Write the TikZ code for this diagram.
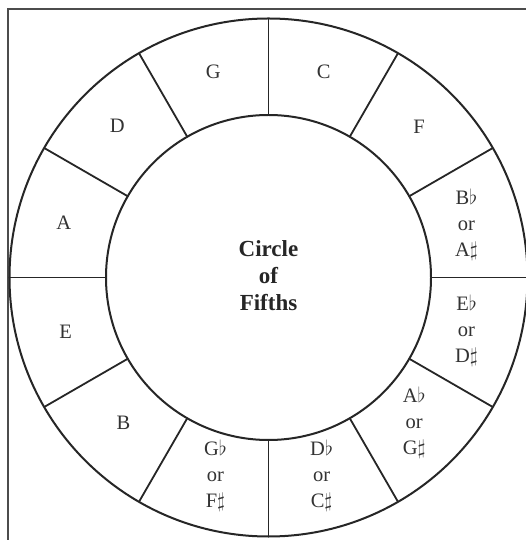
\documentclass[tikz,border=0pt]{standalone}
\usepackage{fontspec}
\setmainfont{Liberation Serif}
\usetikzlibrary{calc}
\begin{document}
\begin{tikzpicture}[x=1pt,y=1pt,
  ring/.style={line width=2pt,draw=black!85},
  spoke/.style={line width=1.8pt,draw=black!85},
  frame/.style={line width=1.5pt,draw=black!70},
  keylab/.style={font=\fontsize{20.5}{26}\selectfont,align=center,text=black!80,inner sep=0pt},
  title/.style={font=\fontsize{23}{27}\selectfont\bfseries,align=center,text=black!85,inner sep=0pt}]
\useasboundingbox (-268.5,-262.5) rectangle (257.5,277.5);
\clip (-268.5,-262.5) rectangle (257.5,277.5);
\fill[white] (-268.5,-262.5) rectangle (257.5,277.5);
\coordinate (c) at (0,0);
% frame
\draw[frame] (-260.5,-280) -- (-260.5,268.5) -- (270,268.5);
% rings
\draw[ring] (c) circle[radius=259];
\draw[ring] (c) circle[radius=162.5];
% spokes
\foreach \a in {0,30,...,330}{
  \draw[spoke] ($(c)+(\a:162.5)$) -- ($(c)+(\a:259)$);
}
% labels
\node[keylab] (kC) at (75:213) {C};
\node[keylab] (kG) at (105:213) {G};
\node[keylab] (kD) at (135:214) {D};
\node[keylab] (kA) at (165:212) {A};
\node[keylab] (kE) at (195:210) {E};
\node[keylab] (kB) at (225:205) {B};
\node[keylab] (kF) at (45:213) {F};
\node[keylab] (kBb) at (15:205) {B$\flat$\\or\\A$\sharp$};
\node[keylab] (kEb) at (-15:205) {E$\flat$\\or\\D$\sharp$};
\node[keylab] (kAb) at (-45:206) {A$\flat$\\or\\G$\sharp$};
\node[keylab] (kDb) at (-75:205) {D$\flat$\\or\\C$\sharp$};
\node[keylab] (kGb) at (-105:205) {G$\flat$\\or\\F$\sharp$};
\node[title] (t) at (0,2) {Circle\\of\\Fifths};
\end{tikzpicture}
\end{document}
